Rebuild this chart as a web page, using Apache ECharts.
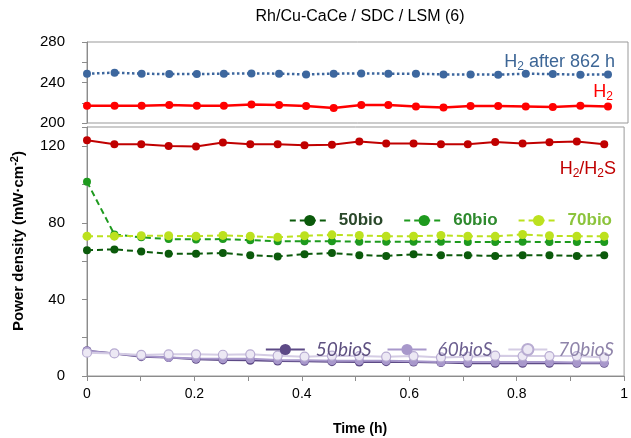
<!DOCTYPE html>
<html>
<head>
<meta charset="utf-8">
<script src="https://cdn.jsdelivr.net/npm/echarts@6/dist/echarts.min.js"></script>
<style>
  html, body { margin: 0; padding: 0; background: #fff; }
  #chart { width: 631px; height: 438px; }
</style>
</head>
<body>
<div id="chart"></div>
<script>
// time (h) of each measurement
const times = [0, 0.051, 0.101, 0.152, 0.203, 0.253, 0.304, 0.355, 0.405, 0.456,
  0.507, 0.557, 0.608, 0.659, 0.709, 0.76, 0.811, 0.861, 0.912, 0.963]

// top panel
const h2After862 = [248.7, 249.7, 248.7, 248.3, 248.3, 248.7, 249, 248.7, 248, 248.7,
  249, 248.7, 248.7, 248, 248, 247.7, 248.7, 248.3, 247.7, 248]
const h2 = [217, 217, 217, 217.7, 217, 217, 218.3, 217.7, 216.7, 214.7,
  217.7, 217.7, 216.3, 215.3, 216.7, 216.7, 216.3, 215.7, 217, 216.3]

// bottom panel
const h2h2s = [123.1, 121, 121, 120.1, 119.8, 121.9, 121, 121, 120.5, 120.7,
  122.4, 121.4, 121.4, 121, 121, 122.2, 121.4, 122.1, 122.4, 121]
const bio50 = [65.7, 66.1, 65.0, 63.8, 63.8, 64.2, 63.0, 62.4, 63.6, 64.2,
  63.1, 62.7, 63.5, 63.0, 63.0, 62.7, 63.0, 63.0, 62.7, 63.0]
const bio60 = [101.4, 73.9, 72.4, 71.5, 71.3, 71.5, 70.9, 70.4, 70.4, 70.4,
  70.1, 70.1, 70.1, 70.1, 69.9, 69.9, 70.1, 69.9, 69.9, 69.9]
const bio70 = [73.0, 73.0, 73.2, 73.2, 73.0, 73.4, 73.0, 72.4, 73.2, 73.7,
  73.4, 73.0, 73.0, 73.4, 73.0, 72.9, 73.9, 73.2, 73.0, 73.0]
const bioS50 = [13.2, 11.8, 10.1, 9.6, 8.7, 8.4, 8.2, 7.8, 7.7, 7.5,
  7.3, 7.5, 7.3, 7.0, 6.6, 6.6, 6.6, 6.6, 6.6, 6.6]
const bioS60 = [13.0, 11.8, 10.4, 9.7, 9.2, 9.0, 9.0, 8.4, 8.2, 8.0,
  8.0, 8.0, 7.7, 7.3, 7.3, 7.3, 7.3, 7.3, 7.0, 7.0]
const bioS70 = [12.2, 11.8, 11.0, 11.3, 11.3, 11.1, 11.3, 10.6, 10.1, 10.6,
  10.4, 10.1, 10.4, 9.7, 10.1, 10.6, 10.4, 10.4, 10.4, 9.7]

const xTicks = [0, 0.2, 0.4, 0.6, 0.8, 1]
const yTicksTop = [200, 240, 280]
const yTicksBottom = [0, 40, 80, 120]

const pairs = (ys) => ys.map((y, i) => [times[i], y])
const font = 'Liberation Sans, Arial, sans-serif'

const chart = echarts.init(document.getElementById('chart'))

const xAxisBase = {
  type: 'value', min: 0, max: 1, interval: 0.2,
  axisLine: { lineStyle: { color: '#8c8c8c' } },
  axisTick: { length: 5, lineStyle: { color: '#8c8c8c' } },
  minorTick: { show: true, splitNumber: 2, length: 5, lineStyle: { color: '#8c8c8c' } },
  splitLine: { show: false },
  axisLabel: {
    color: '#000', fontSize: 14, fontFamily: font, margin: 11,
    formatter: v => xTicks.includes(+v.toFixed(1)) ? String(+v.toFixed(1)) : ''
  }
}

function yAxis(gridIndex, min, max, ticks) {
  return {
    type: 'value', gridIndex, min, max, interval: 40,
    axisLine: { show: true, lineStyle: { color: '#8c8c8c' } },
    axisTick: { show: true, length: 5, lineStyle: { color: '#8c8c8c' } },
    minorTick: { show: true, splitNumber: 2, length: 5, lineStyle: { color: '#8c8c8c' } },
    splitLine: { show: false },
    axisLabel: {
      color: '#000', fontSize: 15, fontFamily: font, margin: 22,
      formatter: v => ticks.includes(v) ? String(v) : ''
    }
  }
}

function line(name, data, xi, color, opts) {
  return Object.assign({
    name, type: 'line', xAxisIndex: xi, yAxisIndex: xi, data: pairs(data),
    symbol: 'circle', symbolSize: 8, color,
    lineStyle: { color, width: 2 },
    itemStyle: { color },
    animation: false
  }, opts)
}

const sub = { fontSize: 12, padding: [9, 0, 0, 0] }

chart.setOption({
  animation: false,
  grid: [
    { left: 87, top: 42, width: 541, height: 81, show: true, borderColor: '#999', borderWidth: 1 },
    { left: 87, top: 127, width: 541, height: 249, show: true, borderColor: '#999', borderWidth: 1 }
  ],
  xAxis: [
    Object.assign({}, xAxisBase, { gridIndex: 0, show: false }),
    Object.assign({}, xAxisBase, { gridIndex: 1 })
  ],
  yAxis: [yAxis(0, 200, 280, yTicksTop), yAxis(1, 0, 130, yTicksBottom)],
  legend: [
    {
      data: [
        { name: '50bio', textStyle: { color: '#2a482a' } },
        { name: '60bio', textStyle: { color: '#2e8a2e' } },
        { name: '70bio', textStyle: { color: '#8cc43c' } }
      ],
      right: 14, top: 207, itemWidth: 40, itemHeight: 14, itemGap: 20,
      textStyle: { fontFamily: font, fontSize: 17, fontWeight: 'bold', padding: [0, 0, 0, 4] }
    },
    {
      data: [
        { name: '50bioS', textStyle: { color: '#5e5080' } },
        { name: '60bioS', textStyle: { color: '#6c5f90' } },
        { name: '70bioS', textStyle: { color: '#8f84aa' } }
      ],
      right: 12, top: 335, itemWidth: 39, itemHeight: 14, itemGap: 15,
      textStyle: { fontFamily: 'Lato, sans-serif', fontSize: 19, fontStyle: 'italic', padding: [0, 0, 0, 6] }
    }
  ],
  series: [
    line('H2 after 862 h', h2After862, 0, '#3d679e', { lineStyle: { color: '#3d679e', width: 2.5, type: 'dotted' } }),
    line('H2', h2, 0, '#ff0000', { lineStyle: { color: '#ff0000', width: 2.5 } }),
    line('H2/H2S', h2h2s, 1, '#c00000', { lineStyle: { color: '#c00000', width: 2 } }),
    line('50bio', bio50, 1, '#0b5a0b', { lineStyle: { color: '#0b5a0b', width: 2, type: [6, 4] } }),
    line('60bio', bio60, 1, '#1e9a1e', { lineStyle: { color: '#1e9a1e', width: 2, type: [6, 4] } }),
    line('70bio', bio70, 1, '#bce11e', { symbolSize: 9, lineStyle: { color: '#bce11e', width: 2, type: [6, 4] } }),
    line('50bioS', bioS50, 1, '#5d4a86', { symbolSize: 9, lineStyle: { color: '#5d4a86', width: 2 } }),
    line('60bioS', bioS60, 1, '#a898cb', { symbolSize: 9, lineStyle: { color: '#a898cb', width: 2 } }),
    line('70bioS', bioS70, 1, '#ddd6ea', {
      symbolSize: 9, lineStyle: { color: '#d4cce4', width: 2 },
      itemStyle: { color: '#ece8f4', borderColor: '#b8acd2', borderWidth: 1.2 }
    })
  ],
  graphic: [
    {
      type: 'text', x: 360, y: 17,
      style: { text: 'Rh/Cu-CaCe / SDC / LSM (6)', fontFamily: font, fontSize: 16, fill: '#000', align: 'center', verticalAlign: 'middle' }
    },
    {
      type: 'text', x: 360, y: 429,
      style: { text: 'Time (h)', fontFamily: font, fontSize: 14, fontWeight: 'bold', fill: '#000', align: 'center', verticalAlign: 'middle' }
    },
    {
      type: 'text', x: 19, y: 241, rotation: Math.PI / 2,
      style: {
        text: '{a|Power density (mW·cm}{p|-2}{a|)}', fill: '#000', align: 'center', verticalAlign: 'middle',
        rich: {
          a: { fontFamily: font, fontSize: 15, fontWeight: 'bold' },
          p: { fontFamily: font, fontSize: 11, fontWeight: 'bold', padding: [0, 0, 8, 0] }
        }
      }
    },
    {
      type: 'text', x: 615, y: 62,
      style: {
        text: '{a|H}{s|2}{a| after 862 h}', fill: '#3d6696', align: 'right', verticalAlign: 'middle',
        rich: { a: { fontFamily: font, fontSize: 18, fill: '#3d6696' }, s: Object.assign({ fontFamily: font, fill: '#3d6696' }, sub) }
      }
    },
    {
      type: 'text', x: 613, y: 92,
      style: {
        text: '{a|H}{s|2}', fill: '#ff0000', align: 'right', verticalAlign: 'middle',
        rich: { a: { fontFamily: font, fontSize: 18, fill: '#ff0000' }, s: Object.assign({ fontFamily: font, fill: '#ff0000' }, sub) }
      }
    },
    {
      type: 'text', x: 616, y: 169,
      style: {
        text: '{a|H}{s|2}{a|/H}{s|2}{a|S}', fill: '#c00000', align: 'right', verticalAlign: 'middle',
        rich: { a: { fontFamily: font, fontSize: 18, fill: '#c00000' }, s: Object.assign({ fontFamily: font, fill: '#c00000' }, sub) }
      }
    }
  ]
})
</script>
</body>
</html>
